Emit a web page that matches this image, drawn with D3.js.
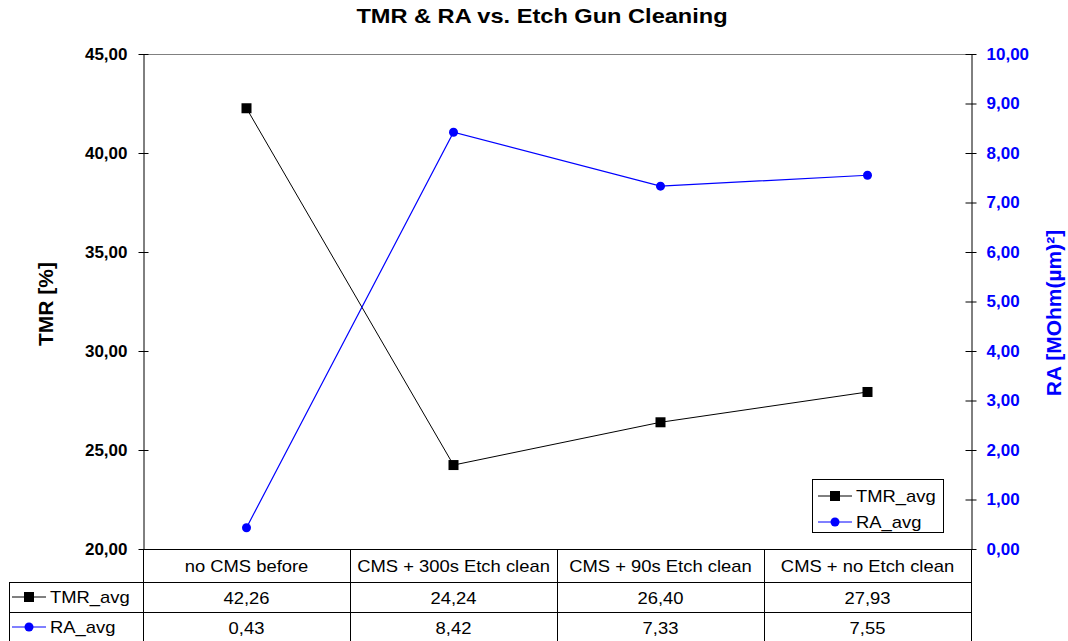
<!DOCTYPE html>
<html>
<head>
<meta charset="utf-8">
<script src="https://cdn.jsdelivr.net/npm/d3@7"></script>
<style>
  html, body { margin: 0; padding: 0; background: #fff; }
  svg { display: block; font-family: "Liberation Sans", Arial, sans-serif; }
</style>
</head>
<body>
<svg id="chart" width="1068" height="641"></svg>
<script>
// Categories and measured averages
const categories = ["no CMS before", "CMS + 300s Etch clean", "CMS + 90s Etch clean", "CMS + no Etch clean"];
const tmrAvg = [42.26, 24.24, 26.40, 27.93];
const raAvg = [0.43, 8.42, 7.33, 7.55];
const tmrTicks = [20, 25, 30, 35, 40, 45];
const raTicks = [0, 1, 2, 3, 4, 5, 6, 7, 8, 9, 10];
const seriesNames = ["TMR_avg", "RA_avg"];

const BLUE = "#0000ff";
const fmt = v => d3.format(".2f")(v).replace(".", ",");

const svg = d3.select("#chart");
const plot = { left: 143, right: 971, top: 54, bottom: 549 };

const x = d3.scaleBand().domain(categories).range([plot.left, plot.right]);
const yL = d3.scaleLinear().domain([20, 45]).range([plot.bottom, plot.top]);
const yR = d3.scaleLinear().domain([0, 10]).range([plot.bottom, plot.top]);
const cx = c => x(c) + x.bandwidth() / 2;

// text helper with horizontal stretch
function label(parent, px, py, str, o = {}) {
  return parent.append("text")
    .attr("transform", `translate(${px},${py}) scale(${o.sx || 1},1)`)
    .attr("text-anchor", o.anchor || "middle")
    .attr("fill", o.fill || "#000")
    .style("font-size", (o.size || 16) + "px")
    .style("font-weight", o.weight || "normal")
    .text(str);
}

// title
label(svg, 542, 23, "TMR & RA vs. Etch Gun Cleaning", { size: 20, weight: "bold", sx: 1.18 });

// plot top border
svg.append("line")
  .attr("x1", plot.left).attr("x2", plot.right)
  .attr("y1", plot.top + 0.5).attr("y2", plot.top + 0.5)
  .attr("stroke", "#808080").attr("stroke-width", 1);

// left axis
const axL = svg.append("g").attr("transform", `translate(${plot.left + 0.5},0)`)
  .call(d3.axisLeft(yL).tickValues(tmrTicks).tickSize(5).tickSizeOuter(0).tickFormat(fmt).tickPadding(11));
axL.select(".domain").attr("stroke", "#000");
axL.selectAll(".tick line").attr("x1", 5).attr("stroke", "#000");
axL.selectAll(".tick text")
  .attr("fill", "#000").style("font-size", "17px").style("font-weight", "bold")
  .style("font-family", "'Liberation Sans', Arial, sans-serif");

// right axis
const axR = svg.append("g").attr("transform", `translate(${plot.right + 0.5},0)`)
  .call(d3.axisRight(yR).tickValues(raTicks).tickSize(5).tickSizeOuter(0).tickFormat(fmt).tickPadding(10));
axR.select(".domain").attr("stroke", "#000");
axR.selectAll(".tick line").attr("x1", -6).attr("stroke", "#000");
axR.selectAll(".tick text")
  .attr("fill", BLUE).style("font-size", "17px").style("font-weight", "bold")
  .style("font-family", "'Liberation Sans', Arial, sans-serif");

// axis titles
svg.append("text")
  .attr("transform", "translate(53,304) rotate(-90)")
  .attr("text-anchor", "middle").style("font-size", "21px").style("font-weight", "bold")
  .text("TMR [%]");
svg.append("text")
  .attr("transform", "translate(1061,313) rotate(-90)")
  .attr("text-anchor", "middle").attr("fill", BLUE)
  .style("font-size", "21px").style("font-weight", "bold")
  .text("RA [MOhm(µm)²]");

// series lines
const tmrLine = d3.line().x((d, i) => cx(categories[i])).y(d => yL(d));
const raLine = d3.line().x((d, i) => cx(categories[i])).y(d => yR(d));

svg.append("path").datum(tmrAvg).attr("d", tmrLine)
  .attr("fill", "none").attr("stroke", "#000").attr("stroke-width", 1);
svg.append("path").datum(raAvg).attr("d", raLine)
  .attr("fill", "none").attr("stroke", BLUE).attr("stroke-width", 1.2);

svg.append("g").selectAll("rect").data(tmrAvg).join("rect")
  .attr("x", (d, i) => cx(categories[i]) - 5).attr("y", d => yL(d) - 5)
  .attr("width", 10).attr("height", 10).attr("fill", "#000");
svg.append("g").selectAll("circle").data(raAvg).join("circle")
  .attr("cx", (d, i) => cx(categories[i])).attr("cy", d => yR(d))
  .attr("r", 4.5).attr("fill", BLUE);

// legend
const lg = svg.append("g");
lg.append("rect").attr("x", 812.5).attr("y", 479.5).attr("width", 131).attr("height", 53)
  .attr("fill", "#fff").attr("stroke", "#000").attr("stroke-width", 1);
function key(parent, kx, ky, idx) {
  const col = idx === 0 ? "#000" : BLUE;
  parent.append("line").attr("x1", kx - 17).attr("x2", kx + 17).attr("y1", ky).attr("y2", ky)
    .attr("stroke", col).attr("stroke-width", 1);
  if (idx === 0) {
    parent.append("rect").attr("x", kx - 5).attr("y", ky - 5).attr("width", 10).attr("height", 10).attr("fill", col);
  } else {
    parent.append("circle").attr("cx", kx).attr("cy", ky).attr("r", 4.5).attr("fill", col);
  }
}
[496, 522].forEach((ky, i) => {
  key(lg, 835, ky, i);
  label(lg, 856, ky + 6, seriesNames[i], { anchor: "start", size: 16, sx: 1.15 });
});

// data table
const tbl = svg.append("g");
const rowY = [549, 582, 612, 641];
const tableLeft = 9;
const hl = (y1, xa, xb) => tbl.append("line").attr("x1", xa).attr("x2", xb)
  .attr("y1", y1 + 0.5).attr("y2", y1 + 0.5).attr("stroke", "#000").attr("stroke-width", 1);
const vl = (x1, ya, yb) => tbl.append("line").attr("x1", x1 + 0.5).attr("x2", x1 + 0.5)
  .attr("y1", ya).attr("y2", yb).attr("stroke", "#000").attr("stroke-width", 1);

hl(rowY[0], plot.left, plot.right);
hl(rowY[1], tableLeft, plot.right);
hl(rowY[2], tableLeft, plot.right);
vl(tableLeft, rowY[1], rowY[3]);
x.domain().forEach(c => vl(Math.round(x(c)), rowY[0], rowY[3]));
vl(plot.right, rowY[0], rowY[3]);

categories.forEach(c => label(tbl, cx(c), 572, c, { size: 16, sx: 1.15 }));
tmrAvg.forEach((v, i) => label(tbl, cx(categories[i]), 604, fmt(v), { size: 16, sx: 1.15 }));
raAvg.forEach((v, i) => label(tbl, cx(categories[i]), 634, fmt(v), { size: 16, sx: 1.15 }));

[597, 627].forEach((ky, i) => {
  key(tbl, 29, ky, i);
  label(tbl, 50, ky + 6, seriesNames[i], { anchor: "start", size: 16, sx: 1.15 });
});
</script>
</body>
</html>
